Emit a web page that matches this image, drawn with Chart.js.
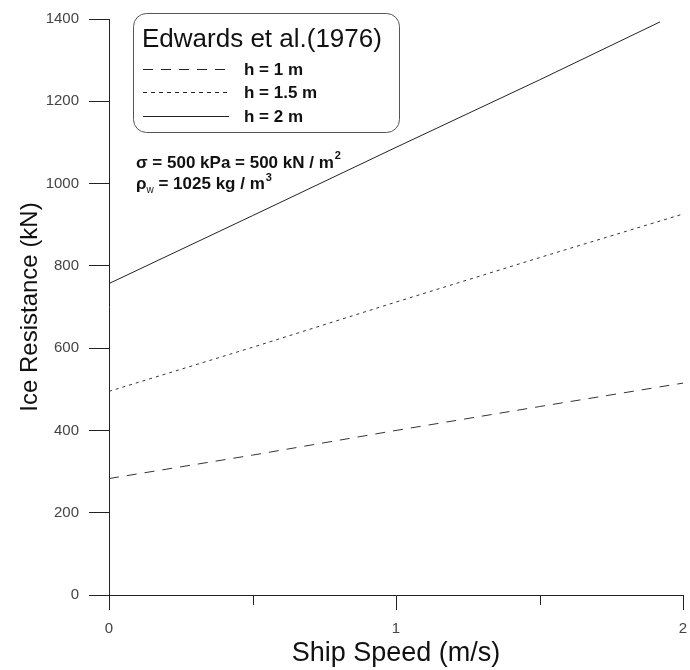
<!DOCTYPE html>
<html>
<head>
<meta charset="utf-8">
<script src="https://cdn.jsdelivr.net/npm/chart.js@4.4.1/dist/chart.umd.min.js"></script>
<style>
  html, body { margin: 0; padding: 0; background: #fff; }
  #wrap { width: 690px; height: 670px; }
</style>
</head>
<body>
<div id="wrap"><canvas id="iceChart" width="690" height="670"></canvas></div>
<script>
// values
const speeds = [0, 0.5, 1, 1.5, 2];
const speedsH2 = [0, 0.5, 1, 1.5, 1.92];
const resistH1 = [283, 340, 400, 458, 515];
const resistH15 = [495, 602, 712, 820, 926];
const resistH2 = [757, 922, 1088, 1252, 1393];
const yTicks = [0, 200, 400, 600, 800, 1000, 1200, 1400];
const xTicks = [0, 1, 2];

const FONT = "'Liberation Sans', Arial, sans-serif";

function toPoints(xs, ys) {
    return xs.map((x, i) => ({ x: x, y: ys[i] }));
}

// legend box + parameter text, plus the short minor ticks on x
const overlayPlugin = {
    id: "overlay",
    afterDraw(chart) {
        const ctx = chart.ctx;
        const xs = chart.scales.x;
        ctx.save();

        // minor x ticks
        ctx.strokeStyle = "#222";
        ctx.lineWidth = 1;
        [0.5, 1.5].forEach(v => {
            const px = Math.round(xs.getPixelForValue(v)) + 0.5;
            ctx.beginPath();
            ctx.moveTo(px, xs.top);
            ctx.lineTo(px, xs.top + 10);
            ctx.stroke();
        });

        // legend box
        ctx.strokeStyle = "#555";
        ctx.beginPath();
        ctx.roundRect(133.5, 13.5, 266, 119, 13);
        ctx.stroke();

        ctx.fillStyle = "#111";
        ctx.textBaseline = "alphabetic";
        ctx.font = "26px " + FONT;
        ctx.fillText("Edwards et al.(1976)", 142, 47);

        const rows = [
            { label: "h = 1 m", dash: [10, 8], y: 69 },
            { label: "h = 1.5 m", dash: [4, 4], y: 92 },
            { label: "h = 2 m", dash: [], y: 116 }
        ];
        rows.forEach(r => {
            ctx.strokeStyle = "#222";
            ctx.setLineDash(r.dash);
            ctx.beginPath();
            ctx.moveTo(143, r.y + 0.5);
            ctx.lineTo(229, r.y + 0.5);
            ctx.stroke();
            ctx.setLineDash([]);
            ctx.font = "bold 17px " + FONT;
            ctx.fillText(r.label, 244, r.y + 6);
        });

        // parameters
        const big = "bold 17px " + FONT;
        const small = "bold 11px " + FONT;
        ctx.font = big;
        let t = "\u03c3 = 500 kPa = 500 kN / m";
        ctx.fillText(t, 136, 168);
        let w = ctx.measureText(t).width;
        ctx.font = small;
        ctx.fillText("2", 136 + w + 1, 159);

        ctx.font = big;
        ctx.fillText("\u03c1", 136, 189);
        let w1 = ctx.measureText("\u03c1").width;
        ctx.font = "10px " + FONT;
        ctx.fillText("w", 136 + w1, 193);
        let w2 = ctx.measureText("w").width;
        ctx.font = big;
        t = " = 1025 kg / m";
        ctx.fillText(t, 136 + w1 + w2, 189);
        let w3 = ctx.measureText(t).width;
        ctx.font = small;
        ctx.fillText("3", 136 + w1 + w2 + w3 + 1, 181);

        ctx.restore();
    }
};

new Chart(document.getElementById("iceChart"), {
    type: "line",
    data: {
        datasets: [
            {
                label: "h = 1 m",
                data: toPoints(speeds, resistH1),
                borderColor: "#333",
                borderWidth: 1,
                borderDash: [10, 8],
                pointRadius: 0,
                tension: 0
            },
            {
                label: "h = 1.5 m",
                data: toPoints(speeds, resistH15),
                borderColor: "#333",
                borderWidth: 1,
                borderDash: [3, 4],
                pointRadius: 0,
                tension: 0
            },
            {
                label: "h = 2 m",
                data: toPoints(speedsH2, resistH2),
                borderColor: "#222",
                borderWidth: 1,
                pointRadius: 0,
                tension: 0
            }
        ]
    },
    options: {
        responsive: false,
        animation: false,
        layout: {
            padding: { top: 19, right: 7, left: 0, bottom: 0 }
        },
        plugins: {
            legend: { display: false },
            tooltip: { enabled: false }
        },
        scales: {
            x: {
                type: "linear",
                min: 0,
                max: 2,
                afterFit(scale) {
                    scale.height = 75;
                    scale.paddingRight = 0;
                    scale.paddingLeft = 0;
                },
                afterBuildTicks(scale) {
                    scale.ticks = [0, 0.5, 1, 1.5, 2].map(v => ({ value: v }));
                },
                border: { display: true, color: "#222", width: 1 },
                grid: {
                    drawOnChartArea: false,
                    drawTicks: true,
                    tickLength: 15,
                    tickColor: ctx => (xTicks.includes(ctx.tick && ctx.tick.value) ? "#222" : "rgba(0,0,0,0)")
                },
                ticks: {
                    autoSkip: false,
                    maxRotation: 0,
                    padding: 10,
                    color: "#444",
                    font: { family: FONT, size: 15 },
                    callback: v => (xTicks.includes(v) ? String(v) : "")
                },
                title: {
                    display: true,
                    text: "Ship Speed (m/s)",
                    color: "#111",
                    font: { family: FONT, size: 27 },
                    padding: { top: 0, bottom: 0 }
                }
            },
            y: {
                type: "linear",
                min: 0,
                max: 1400,
                afterFit(scale) { scale.width = 109; },
                afterBuildTicks(scale) {
                    scale.ticks = yTicks.map(v => ({ value: v }));
                },
                border: { display: true, color: "#222", width: 1 },
                grid: {
                    drawOnChartArea: false,
                    drawTicks: true,
                    tickLength: 20,
                    color: "#222"
                },
                ticks: {
                    padding: 10,
                    color: "#444",
                    font: { family: FONT, size: 15 },
                    callback: v => String(v)
                },
                title: {
                    display: true,
                    text: "Ice Resistance (kN)",
                    color: "#111",
                    font: { family: FONT, size: 24 },
                    padding: { top: 16, bottom: 0 }
                }
            }
        }
    },
    plugins: [overlayPlugin]
});
</script>
</body>
</html>
